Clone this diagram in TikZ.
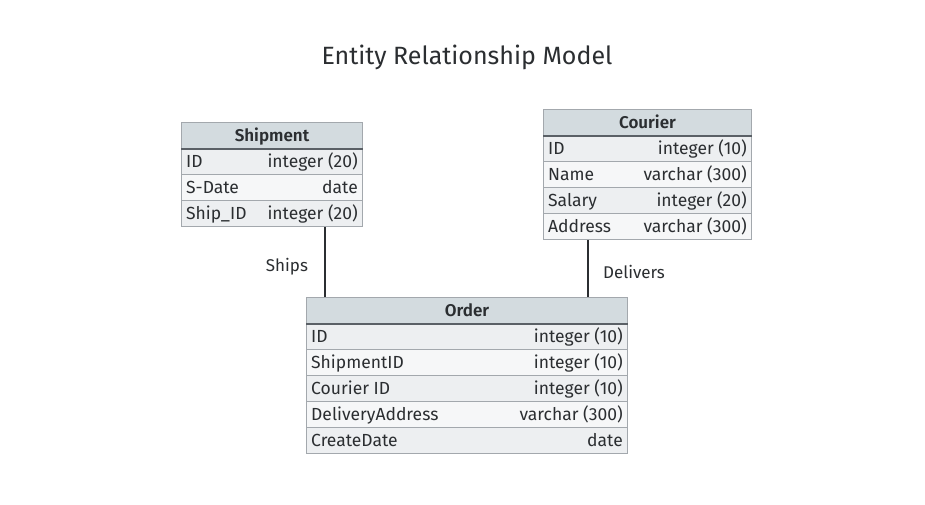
\documentclass[tikz,border=0pt]{standalone}
\usepackage{fontspec}
\setmainfont{Fira Sans}[BoldFont={Fira Sans SemiBold}]
\definecolor{hdrfill}{HTML}{D3DBDF}
\definecolor{rowA}{HTML}{EDEFF1}
\definecolor{rowB}{HTML}{F6F7F8}
\definecolor{gridline}{HTML}{A3A8AD}
\definecolor{hdrline}{HTML}{5A6066}
\definecolor{ink}{HTML}{2B2E31}
\tikzset{
  cell/.style={draw=gridline, line width=1pt, anchor=north west, inner sep=0pt,
               minimum height=26pt},
  hdrbox/.style={cell, fill=hdrfill, font=\fontsize{17}{20}\selectfont\bfseries, text=ink,
                 text height=12pt, text depth=0pt},
  celltxt/.style={inner sep=0pt, text=ink, text height=12pt, text depth=0pt,
                  font=\fontsize{17.5}{20}\selectfont},
  fieldtxt/.style={celltxt, anchor=west, xshift=5pt},
  typetxt/.style={celltxt, anchor=east, xshift=-5pt},
  link/.style={draw=ink, line width=1.6pt},
  linklabel/.style={text=ink, font=\fontsize{17}{20}\selectfont, inner sep=0pt},
}
% one table row: name, x, y, width, fill, field, type
\newcommand\ercell[7]{%
  \node[cell, fill=#5, minimum width=#4pt] (#1) at (#2,#3) {};
  \node[fieldtxt] (#1-f) at (#1.west) {#6};
  \node[typetxt] (#1-t) at (#1.east) {#7};
}
% table header: name, x, y, width, title
\newcommand\erhead[5]{%
  \node[hdrbox, minimum width=#4pt] (#1) at (#2,#3) {#5};
}
\begin{document}
\begin{tikzpicture}[x=1pt, y=-1pt]
  \useasboundingbox[fill=white] (0,0) rectangle (925,505);

  \node[text=ink, font=\fontsize{25}{30}\selectfont] (title) at (467,57) {Entity Relationship Model};

  % Shipment
  \erhead{ship}{181}{122}{181}{Shipment}
  \ercell{ship-1}{181}{148}{181}{rowA}{ID}{integer (20)}
  \ercell{ship-2}{181}{174}{181}{rowB}{S-Date}{date}
  \ercell{ship-3}{181}{200}{181}{rowA}{Ship\_ID}{integer (20)}
  \draw[hdrline, line width=1.4pt] (ship.south west) -- (ship.south east);

  % Courier
  \erhead{cour}{543}{109}{208}{Courier}
  \ercell{cour-1}{543}{135}{208}{rowA}{ID}{integer (10)}
  \ercell{cour-2}{543}{161}{208}{rowB}{Name}{varchar (300)}
  \ercell{cour-3}{543}{187}{208}{rowA}{Salary}{integer (20)}
  \ercell{cour-4}{543}{213}{208}{rowB}{Address}{varchar (300)}
  \draw[hdrline, line width=1.4pt] (cour.south west) -- (cour.south east);

  % Order
  \erhead{ord}{306}{297}{321}{Order}
  \ercell{ord-1}{306}{323}{321}{rowA}{ID}{integer (10)}
  \ercell{ord-2}{306}{349}{321}{rowB}{ShipmentID}{integer (10)}
  \ercell{ord-3}{306}{375}{321}{rowA}{Courier ID}{integer (10)}
  \ercell{ord-4}{306}{401}{321}{rowB}{DeliveryAddress}{varchar (300)}
  \ercell{ord-5}{306}{427}{321}{rowA}{CreateDate}{date}
  \draw[hdrline, line width=1.4pt] (ord.south west) -- (ord.south east);

  % relationships
  \draw[link] ([xshift=144pt]ship-3.south west) -- ([xshift=19pt]ord.north west);
  \draw[link] ([xshift=45pt]cour-4.south west) -- ([xshift=282pt]ord.north west);
  \node[linklabel] (ships) at (287,267) {Ships};
  \node[linklabel] (delivers) at (634,272) {Delivers};
\end{tikzpicture}
\end{document}
